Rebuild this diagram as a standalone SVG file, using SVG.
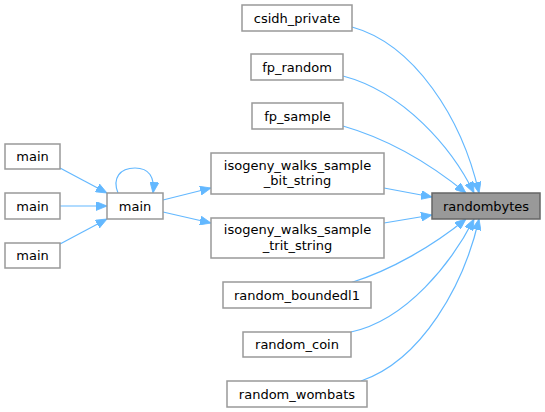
<svg xmlns="http://www.w3.org/2000/svg" width="545" height="412" viewBox="0 0 545 412">
<style>
.n rect{fill:#ffffff;stroke:#999999;stroke-width:1.5}
.h rect{fill:#999999;stroke:#666666;stroke-width:1.5}
text{font-family:"DejaVu Sans",sans-serif;font-size:13px;fill:#000000;text-anchor:middle}
.e path{fill:none;stroke:#63b8ff;stroke-width:1.2;marker-end:url(#a)}
</style>
<defs>
<marker id="a" viewBox="0 0 11 9" refX="11" refY="4.5" markerWidth="11" markerHeight="9" markerUnits="userSpaceOnUse" orient="auto">
<path d="M0,0L11,4.5L0,9z" fill="#63b8ff" stroke="#63b8ff" stroke-width="0.8"/>
</marker>
</defs>
<rect width="545" height="412" fill="#ffffff"/>
<g id="edges" class="e">
<path d="M352,27C414,44 462,118 479,193"/>
<path d="M343,76C404,92 452,148 474,193"/>
<path d="M343,126C385,138 428,162 466,193"/>
<path d="M384,188L432,197"/>
<path d="M384,223L432,215"/>
<path d="M350,283C392,270 434,245 466,219"/>
<path d="M351,332C407,320 452,262 474,219"/>
<path d="M361,381C422,360 464,285 479,219"/>
<path d="M60,168L107,193"/>
<path d="M60,206L107,206"/>
<path d="M60,244L107,219"/>
<path d="M163,200L211,188"/>
<path d="M163,212L211,223"/>
<path d="M118,193C112,178 120,168 135,168C149,168 155,177 153,193"/>
</g>
<g id="randombytes" class="h"><rect x="432" y="193" width="108" height="26"/><text x="486" y="210.5">randombytes</text></g>
<g id="csidh_private" class="n"><rect x="242" y="5" width="110" height="26"/><text x="297" y="22.5">csidh_private</text></g>
<g id="fp_random" class="n"><rect x="251" y="54" width="92" height="26"/><text x="297" y="71.5">fp_random</text></g>
<g id="fp_sample" class="n"><rect x="252" y="103" width="91" height="26"/><text x="297.5" y="120.5">fp_sample</text></g>
<g id="isogeny_bit" class="n"><rect x="211" y="153" width="173" height="41"/><text x="297.5" y="169.5">isogeny_walks_sample</text><text x="297.5" y="185">_bit_string</text></g>
<g id="isogeny_trit" class="n"><rect x="211" y="218" width="173" height="40"/><text x="297.5" y="234">isogeny_walks_sample</text><text x="297.5" y="249.5">_trit_string</text></g>
<g id="random_boundedl1" class="n"><rect x="223" y="282" width="148" height="26"/><text x="297" y="299.5">random_boundedl1</text></g>
<g id="random_coin" class="n"><rect x="243" y="332" width="108" height="25"/><text x="297" y="349">random_coin</text></g>
<g id="random_wombats" class="n"><rect x="227" y="381" width="140" height="26"/><text x="297" y="398.5">random_wombats</text></g>
<g id="main_c" class="n"><rect x="107" y="193" width="56" height="26"/><text x="135" y="210.5">main</text></g>
<g id="main_1" class="n"><rect x="5" y="144" width="55" height="25"/><text x="32.5" y="161">main</text></g>
<g id="main_2" class="n"><rect x="5" y="193" width="55" height="26"/><text x="32.5" y="210.5">main</text></g>
<g id="main_3" class="n"><rect x="5" y="243" width="55" height="25"/><text x="32.5" y="260">main</text></g>
</svg>
